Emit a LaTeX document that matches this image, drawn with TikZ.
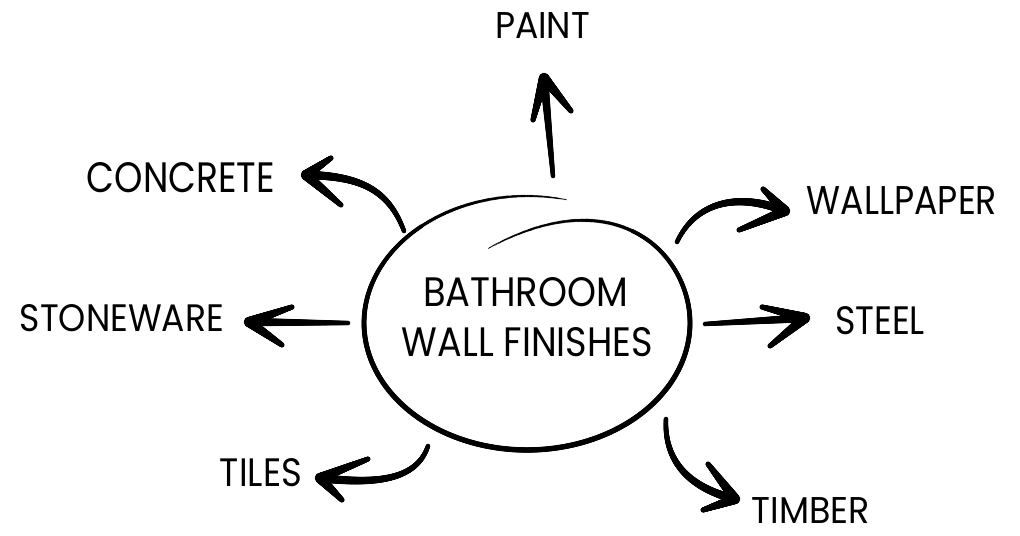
\documentclass[tikz,border=0pt]{standalone}
\usepackage{fontspec}
\setmainfont{Poppins}
\usepackage{graphicx}
\usetikzlibrary{calc}
\newcommand\fitlab[3]{\resizebox{\dimexpr #1pt*3/4\relax}{\dimexpr #2pt*3/4\relax}{#3}}
% brush stroke along a straight line A -> B, half width from #3 pt to #4 pt
\newcommand\brushline[4]{%
  \foreach \t in {0,0.01,...,1.0001}{%
    \pgfmathsetmacro\br{#3+(#4-#3)*\t}%
    \fill[ink] ($(#1)!\t!(#2)$) circle[radius=\br pt];}}
% brush stroke along the curve P0 .. controls P1 and P2 .. P3
\newcommand\brushcurve[6]{%
  \foreach \t in {0,0.005,...,1.0001}{%
    \pgfmathsetmacro\wa{(1-\t)*(1-\t)*(1-\t)}%
    \pgfmathsetmacro\wb{3*(1-\t)*(1-\t)*\t}%
    \pgfmathsetmacro\wc{3*(1-\t)*\t*\t}%
    \pgfmathsetmacro\wd{\t*\t*\t}%
    \pgfmathsetmacro\br{#5+(#6-#5)*\t}%
    \fill[ink] ($\wa*(#1)+\wb*(#2)+\wc*(#3)+\wd*(#4)$) circle[radius=\br pt];}}
\tikzset{
  lab/.style={inner sep=0pt, outer sep=0pt, anchor=center},
  ink/.style={fill=black},
}
\begin{document}
\begin{tikzpicture}[x=0.75pt, y=-0.75pt]
\useasboundingbox (0,0) rectangle (1020,535);
\fill[white] (0,0) rectangle (1020,535);

% central text
\node[lab] (bath) at (525.5,292.5) {\fitlab{205}{29}{BATHROOM}};
\node[lab] (wall) at (527.5,342.5) {\fitlab{251}{29}{WALL FINISHES}};

% hand-drawn ellipse: one brush stroke spiralling inwards, thin at both ends
\foreach \a in {76,76.4,...,464}{%
  \pgfmathsetmacro\qa{max(\a-380,0)}%
  \pgfmathsetmacro\qb{max(\a-400,0)}%
  \pgfmathsetmacro\ry{127-0.00709*\qa*\qa}%
  \pgfmathsetmacro\rx{163-0.05*\qb}%
  \pgfmathsetmacro\ex{527+\rx*cos(\a)}%
  \pgfmathsetmacro\ey{323-\ry*sin(\a)}%
  \pgfmathsetmacro\ef{(\a-76)/388}%
  \pgfmathsetmacro\ew{0.35+1.75*sqrt(max(sin(\ef*180),0))}%
  \fill[ink] (\ex,\ey) circle[radius=\ew pt];}

% labels
\node[lab] (paint) at (542.5,25) {\fitlab{95}{26}{PAINT}};
\node[lab] (concrete) at (181,178) {\fitlab{188}{30}{CONCRETE}};
\node[lab] (wallpaper) at (902,201) {\fitlab{190}{28}{WALLPAPER}};
\node[lab] (stoneware) at (122,318.5) {\fitlab{204}{27}{STONEWARE}};
\node[lab] (steel) at (880,321) {\fitlab{90}{28}{STEEL}};
\node[lab] (tiles) at (261,473) {\fitlab{82}{28}{TILES}};
\node[lab] (timber) at (811,510) {\fitlab{118}{26}{TIMBER}};

% arrow coordinates: tail T, head H, barb ends A/B, controls 1/2
\coordinate (pT) at (553,176); \coordinate (pH) at (544,78);
\coordinate (pA) at (533,120); \coordinate (pB) at (571,111);
\coordinate (cT) at (404,231); \coordinate (cH) at (306,175);
\coordinate (cA) at (331,158); \coordinate (cB) at (341,205);
\coordinate (c1) at (388,188); \coordinate (c2) at (358,176);
\coordinate (wT) at (677,242); \coordinate (wH) at (785,211);
\coordinate (wA) at (763,189); \coordinate (wB) at (739,230);
\coordinate (w1) at (697,200); \coordinate (w2) at (740,193);
\coordinate (sT) at (348,323); \coordinate (sH) at (249,322);
\coordinate (sA) at (292,307); \coordinate (sB) at (282,345);
\coordinate (eT) at (705,324); \coordinate (eH) at (805,318);
\coordinate (eA) at (762,307); \coordinate (eB) at (770,346);
\coordinate (tT) at (428,446); \coordinate (tH) at (320,478);
\coordinate (tA) at (368,459); \coordinate (tB) at (342,500);
\coordinate (t1) at (416,482); \coordinate (t2) at (372,484);
\coordinate (mT) at (666,419); \coordinate (mH) at (735,499);
\coordinate (mA) at (708,464); \coordinate (mB) at (703,510);
\coordinate (m1) at (664,462); \coordinate (m2) at (690,488);

% arrows (tapered brush strokes)
\brushline{pT}{pH}{1.7}{3.3}
\brushline{pA}{pH}{1.9}{3.9} \brushline{pB}{pH}{1.9}{3.9}

\brushcurve{cT}{c1}{c2}{cH}{1.7}{3.3}
\brushline{cA}{cH}{1.9}{3.9} \brushline{cB}{cH}{1.9}{3.9}

\brushcurve{wT}{w1}{w2}{wH}{1.7}{3.3}
\brushline{wA}{wH}{1.9}{3.9} \brushline{wB}{wH}{1.9}{3.9}

\brushline{sT}{sH}{1.7}{3.3}
\brushline{sA}{sH}{1.9}{3.9} \brushline{sB}{sH}{1.9}{3.9}

\brushline{eT}{eH}{1.7}{3.3}
\brushline{eA}{eH}{1.9}{3.9} \brushline{eB}{eH}{1.9}{3.9}

\brushcurve{tT}{t1}{t2}{tH}{1.7}{3.3}
\brushline{tA}{tH}{1.9}{3.9} \brushline{tB}{tH}{1.9}{3.9}

\brushcurve{mT}{m1}{m2}{mH}{1.7}{3.3}
\brushline{mA}{mH}{1.9}{3.9} \brushline{mB}{mH}{1.9}{3.9}
\end{tikzpicture}
\end{document}
